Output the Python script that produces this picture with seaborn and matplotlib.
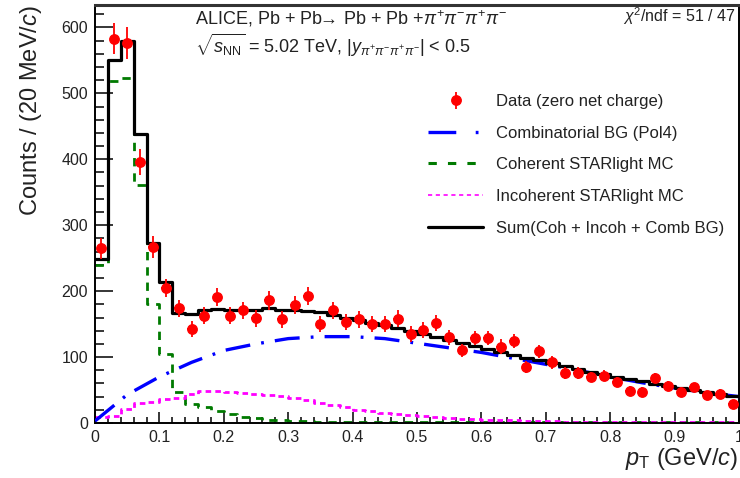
import numpy as np
import pandas as pd
import matplotlib
matplotlib.use("Agg")
import matplotlib.pyplot as plt
import seaborn as sns
from matplotlib.lines import Line2D

# ---------------- data ----------------
bin_width = 0.02
n_bins = 50
pt_min, pt_max = 0.0, 1.0

data_counts = [265, 583, 576, 396, 267, 205, 174, 142, 163, 191,
               163, 171, 159, 186, 157, 179, 193, 150, 171, 153,
               157, 150, 150, 158, 135, 141, 152, 130, 110, 129,
               129, 116, 124, 85, 109, 92, 76, 76, 70, 72,
               62, 49, 47, 68, 56, 47, 54, 42, 44, 29]
data_errors = [16, 24, 24, 20, 16, 14, 13, 12, 13, 14,
               13, 13, 13, 14, 13, 13, 14, 12, 13, 12,
               13, 12, 12, 13, 12, 12, 12, 11, 10, 11,
               11, 11, 11, 9, 10, 10, 9, 9, 8, 8,
               8, 7, 7, 8, 7, 7, 7, 6, 7, 5]
coh_counts = [240, 518, 523, 361, 181, 105, 47, 29, 24, 18,
              13, 9, 7, 5, 4, 3, 3, 2, 2, 2,
              1.5, 1.5, 1.5, 1, 1, 1, 1, 1, 1, 1,
              1, 1, 1, 1, 1, 1, 1, 1, 1, 1,
              1, 1, 1, 1, 1, 1, 1, 1, 1, 1]
incoh_counts = [9, 10, 21, 30, 32, 36, 38, 44, 48, 48,
                47, 46, 44, 42, 41, 38, 35, 31, 27, 24,
                20, 18, 15, 14, 12, 10, 9, 7, 6, 6,
                5, 4, 4, 3, 3, 3, 2, 2, 2, 2,
                1, 1, 1, 1, 1, 1, 1, 1, 1, 1]
sum_counts = [249, 551, 579, 438, 273, 214, 167, 166, 172, 173,
              171, 171, 171, 174, 171, 171, 170, 168, 164, 160,
              156, 152, 148, 144, 139, 135, 130, 126, 121, 117,
              112, 108, 103, 99, 95, 91, 87, 82, 78, 74,
              70, 67, 63, 59, 56, 53, 50, 47, 44, 41]
comb_pt = [0.0, 0.05, 0.10, 0.15, 0.20, 0.25, 0.30, 0.35, 0.40, 0.45, 0.50,
           0.55, 0.60, 0.65, 0.70, 0.75, 0.80, 0.85, 0.90, 0.95, 1.0]
comb_counts = [3, 43, 70, 92, 110, 120, 128, 131, 131, 128, 121,
               114, 107, 98, 89, 80, 70, 61, 53, 46, 40]

x_ticks = [0, 0.1, 0.2, 0.3, 0.4, 0.5, 0.6, 0.7, 0.8, 0.9, 1.0]
x_tick_labels = ["0", "0.1", "0.2", "0.3", "0.4", "0.5", "0.6", "0.7", "0.8", "0.9", "1"]
y_ticks = [0, 100, 200, 300, 400, 500, 600]
y_max = 634

labels = ["Data (zero net charge)", "Combinatorial BG (Pol4)",
          "Coherent STARlight MC", "Incoherent STARlight MC",
          "Sum(Coh + Incoh + Comb BG)"]

# ---------------- style ----------------
sns.set_theme(style="ticks")
plt.rcParams["font.family"] = ["Liberation Sans", "DejaVu Sans"]
plt.rcParams["mathtext.fontset"] = "custom"
plt.rcParams["mathtext.rm"] = "Liberation Sans"
plt.rcParams["mathtext.it"] = "Liberation Sans:italic"
plt.rcParams["mathtext.bf"] = "Liberation Sans:bold"
plt.rcParams["mathtext.sf"] = "Liberation Sans"
plt.rcParams["lines.scale_dashes"] = False

RED = "#ff0000"
BLUE = "#0000ff"
GREEN = "#007a00"
MAGENTA = "#ff00ff"
TXT = "#222222"

fig = plt.figure(figsize=(7.4, 4.78), dpi=100)
W, H = 740, 478
ax = fig.add_axes([95 / W, 1 - 423 / H, (739 - 95) / W, (423 - 5) / H])

centers = pt_min + bin_width * (np.arange(n_bins) + 0.5)
hist_df = pd.DataFrame({"pt": centers, "coh": coh_counts, "incoh": incoh_counts,
                        "sum": sum_counts, "data": data_counts, "err": data_errors})
comb_df = pd.DataFrame({"pt": comb_pt, "comb": comb_counts})

ls_coh = (0, (6, 5))
ls_incoh = (0, (4, 3))
ls_comb = (0, (18, 8, 2, 8))

common = dict(data=hist_df, x="pt", binwidth=bin_width, binrange=(pt_min, pt_max),
              element="step", fill=False, ax=ax)
sns.histplot(weights="coh", color=GREEN, lw=2.0, linestyle=ls_coh, zorder=2, **common)
sns.histplot(weights="incoh", color=MAGENTA, lw=2.0, linestyle=ls_incoh, zorder=2, **common)
sns.lineplot(data=comb_df, x="pt", y="comb", color=BLUE, lw=2.4, linestyle=ls_comb,
             ax=ax, zorder=3)
sns.histplot(weights="sum", color="black", lw=2.3, zorder=4, **common)
ax.errorbar(hist_df["pt"], hist_df["data"], yerr=hist_df["err"], xerr=0.007, fmt="o",
            color=RED, ms=6.8, elinewidth=1.3, capsize=0, zorder=5)

ax.set_xlim(pt_min, pt_max)
ax.set_ylim(0, y_max)
ax.set_xticks(x_ticks)
ax.set_xticklabels(x_tick_labels)
ax.set_yticks(y_ticks)
ax.set_xticks(np.arange(0, 1.0001, 0.02), minor=True)
ax.set_yticks(np.arange(0, y_max, 20), minor=True)
ax.set_xlabel("")
ax.set_ylabel("")

ax.tick_params(axis="both", which="both", direction="in", color="black",
               labelcolor=TXT, labelsize=11.5, width=1.1)
ax.tick_params(axis="y", which="major", length=13, pad=5)
ax.tick_params(axis="y", which="minor", length=6.5)
ax.tick_params(axis="x", which="major", length=8, pad=5)
ax.tick_params(axis="x", which="minor", length=4.3)
for side in ["left", "bottom", "right"]:
    ax.spines[side].set_linewidth(1.4)
    ax.spines[side].set_color("black")
ax.spines["top"].set_linewidth(2.2)
ax.spines["top"].set_color("#333333")
for s in ax.spines.values():
    s.set_visible(True)

# axis titles
fig.text(31 / W, 1 - 5 / H, "Counts / (20 MeV/$c$)", rotation=90, ha="center",
         va="top", fontsize=17, color=TXT)
fig.text(738 / W, 1 - 459 / H, r"$p_{\mathrm{T}}$ (GeV/$c$)", ha="right",
         va="center", fontsize=17, color=TXT)

# annotation texts
fig.text(195 / W, 1 - 19 / H,
         r"ALICE, Pb + Pb$\!\!\rightarrow\!$ Pb + Pb +$\pi^{+}\pi^{-}\pi^{+}\pi^{-}$",
         ha="left", va="center", fontsize=13, color=TXT)
fig.text(195 / W, 1 - 45 / H,
         r"$\sqrt{s_{\mathrm{NN}}}$ = 5.02 TeV, $|y_{\pi^{+}\pi^{-}\pi^{+}\pi^{-}}|$ < 0.5",
         ha="left", va="center", fontsize=13, color=TXT)
fig.text(735 / W, 1 - 16 / H, r"$\chi^{2}$/ndf = 51 / 47", ha="right",
         va="center", fontsize=11.5, color=TXT)

# legend
h_data = ax.errorbar([-1], [-100], yerr=[20], fmt="o", color=RED, ms=6.8,
                     elinewidth=1.3, capsize=0)
h_comb = Line2D([], [], color=BLUE, lw=2.4, linestyle=(0, (20, 14, 2, 20)))
h_coh = Line2D([], [], color=GREEN, lw=2.2, linestyle=(0, (6, 8)))
h_incoh = Line2D([], [], color=MAGENTA, lw=1.2, linestyle=(0, (3, 2.6)))
h_sum = Line2D([], [], color="black", lw=2.3)
leg = ax.legend([h_data, h_comb, h_coh, h_incoh, h_sum], labels,
                loc="upper left", bbox_to_anchor=(428 / W, 1 - 94 / H),
                bbox_transform=fig.transFigure, frameon=False, fontsize=12,
                handlelength=3.3, handletextpad=0.78, labelspacing=1.0,
                borderpad=0, borderaxespad=0)
for t in leg.get_texts():
    t.set_color(TXT)

fig.savefig("out.png", dpi=100)
